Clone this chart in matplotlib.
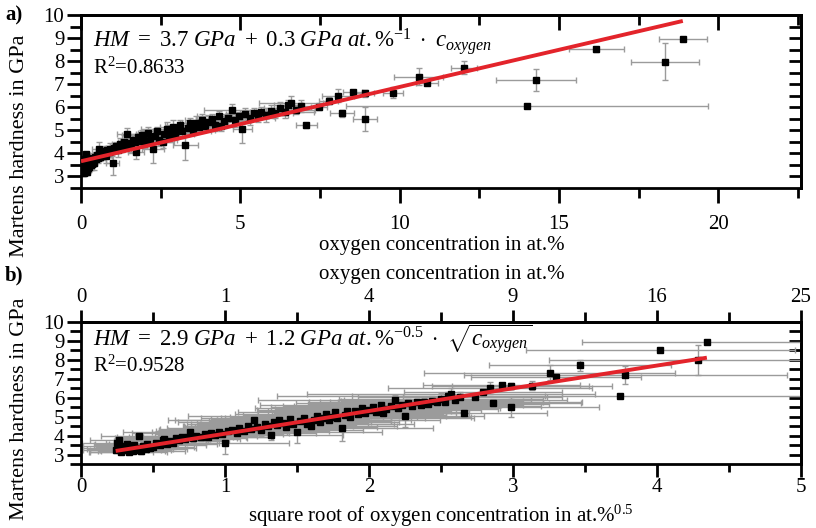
import numpy as np
import matplotlib
matplotlib.use('Agg')
import matplotlib.pyplot as plt
from matplotlib.ticker import MultipleLocator, FixedLocator

plt.rcParams['font.family'] = ['Liberation Serif', 'DejaVu Serif']
plt.rcParams['mathtext.fontset'] = 'custom'
plt.rcParams['mathtext.it'] = 'Liberation Serif:italic'
plt.rcParams['mathtext.rm'] = 'Liberation Serif'
plt.rcParams['mathtext.bf'] = 'Liberation Serif:bold'

# oxygen concentration (at.%), Martens hardness (GPa) and their uncertainties
conc = [0.058, 0.063, 0.068, 0.073, 0.078, 0.090, 0.096, 0.102, 0.109, 0.116,
        0.123, 0.130, 0.137, 0.144, 0.160, 0.160, 0.176, 0.185, 0.203, 0.212,
        0.230, 0.250, 0.270, 0.303, 0.325,
        0.336, 0.360, 0.384, 0.410, 0.436, 0.462, 0.490, 0.518, 0.548, 0.578,
        0.608, 0.640, 0.689, 0.740, 0.774, 0.810, 0.865, 0.922, 0.960, 1.000, 1.040,
        1.10, 1.17, 1.21, 1.28, 1.35, 1.39, 1.44, 1.49, 1.56, 1.64,
        1.69, 1.74, 1.80, 1.85, 1.90, 1.96, 2.02, 2.10, 2.16, 2.25,
        2.31, 2.40, 2.46, 2.56, 2.62, 2.69, 2.76, 2.82, 2.89, 2.96,
        3.03, 3.10, 3.17, 3.28, 3.35, 3.42, 3.50, 3.61, 3.69, 3.80, 3.88, 4.00,
        4.12, 4.20, 4.33, 4.41, 4.49, 4.62, 4.75, 4.84, 4.97, 5.06,
        5.15, 5.29, 5.43, 5.57, 5.66, 5.81, 5.95, 6.10, 6.25, 6.40, 6.50, 6.60, 6.76, 6.92,
        7.07, 7.48, 7.78, 8.07, 8.20, 8.53, 8.90, 8.92, 9.80, 10.60,
        10.87, 12.02, 14.00, 14.29, 16.18, 18.34, 18.89]
hard = [3.25, 3.60, 3.75, 3.35, 3.15, 3.45, 3.25, 3.55, 3.15, 3.30,
        3.40, 3.20, 3.50, 3.25, 3.97, 3.35, 3.20, 3.45, 3.30, 3.55,
        3.35, 3.40, 3.60, 3.50, 3.75,
        3.80, 3.55, 3.70, 3.60, 3.85, 3.75, 3.95, 3.80, 3.90, 4.18,
        3.85, 4.00, 3.95, 4.10, 3.90, 4.15, 4.05, 4.20, 4.10, 3.60, 4.25,
        4.30, 4.15, 4.40, 4.25, 4.50, 4.35, 4.85, 4.45, 4.30, 4.60,
        4.50, 4.05, 4.70, 4.55, 4.80, 4.65, 4.45, 4.90, 4.60, 4.20,
        4.75, 4.95, 4.60, 4.50, 4.85, 5.05, 4.70, 4.95, 5.15, 4.85,
        5.00, 5.25, 4.95, 4.38, 5.10, 5.30, 5.00, 5.30, 5.15, 5.45, 5.20, 5.35,
        5.50, 5.25, 5.60, 5.17, 5.40, 5.55, 5.87, 5.45, 5.60, 5.05,
        5.70, 5.55, 5.75, 5.60, 5.80, 5.65, 5.85, 5.75, 5.95, 5.80, 6.10, 6.20, 5.90, 6.05,
        5.21, 6.03, 6.28, 6.51, 5.74, 6.65, 6.61, 5.50, 6.64, 7.33,
        7.07, 7.72, 6.07, 7.19, 8.51, 7.98, 8.96]
conc_err = [0.05, 0.06, 0.04, 0.07, 0.05, 0.08, 0.06, 0.05, 0.07, 0.09,
            0.06, 0.05, 0.08, 0.06, 0.07, 0.05, 0.09, 0.06, 0.08, 0.07,
            0.10, 0.08, 0.12, 0.10, 0.09,
            0.10, 0.12, 0.15, 0.10, 0.18, 0.12, 0.20, 0.15, 0.10, 0.22,
            0.14, 0.18, 0.25, 0.12, 0.20, 0.30, 0.15, 0.22, 0.18, 0.20, 0.25,
            0.20, 0.30, 0.25, 0.35, 0.20, 0.40, 0.30, 0.25, 0.50, 0.30,
            0.35, 0.25, 0.45, 0.30, 0.60, 0.35, 0.40, 0.30, 0.50, 0.35,
            0.40, 0.30, 0.55, 0.35, 0.45, 0.80, 0.30, 0.50, 0.40, 0.60,
            0.35, 0.45, 0.90, 0.40, 0.50, 0.30, 0.70, 0.45, 0.35, 0.55, 0.40, 0.60,
            0.50, 0.40, 0.70, 0.35, 0.60, 0.45, 0.90, 0.50, 0.40, 0.30,
            0.60, 0.80, 0.45, 0.50, 0.35, 0.70, 0.40, 0.55, 0.50, 0.90, 0.45, 1.00, 0.60, 0.50,
            0.33, 0.25, 0.30, 0.50, 0.37, 0.30, 0.30, 0.37, 0.31, 0.76,
            0.35, 0.40, 5.67, 1.26, 0.87, 1.07, 0.75]
hard_err = [0.15, 0.20, 0.15, 0.25, 0.10, 0.20, 0.15, 0.20, 0.10, 0.15,
            0.25, 0.10, 0.20, 0.15, 0.10, 0.20, 0.15, 0.20, 0.10, 0.25,
            0.15, 0.20, 0.15, 0.20, 0.15,
            0.20, 0.25, 0.15, 0.30, 0.20, 0.15, 0.25, 0.20, 0.15, 0.30,
            0.20, 0.15, 0.25, 0.20, 0.30, 0.15, 0.20, 0.25, 0.20, 0.55, 0.20,
            0.20, 0.30, 0.25, 0.20, 0.30, 0.20, 0.25, 0.20, 0.30, 0.25,
            0.20, 0.30, 0.20, 0.25, 0.20, 0.30, 0.20, 0.25, 0.20, 0.60,
            0.25, 0.20, 0.30, 0.25, 0.20, 0.30, 0.20, 0.25, 0.30, 0.20,
            0.25, 0.20, 0.30, 0.65, 0.20, 0.25, 0.20, 0.30, 0.20, 0.25, 0.20, 0.30,
            0.20, 0.30, 0.25, 0.20, 0.30, 0.20, 0.25, 0.30, 0.20, 0.60,
            0.25, 0.30, 0.20, 0.25, 0.20, 0.30, 0.25, 0.20, 0.30, 0.25, 0.20, 0.30, 0.20, 0.25,
            0.10, 0.15, 0.15, 0.30, 0.15, 0.12, 0.15, 0.52, 0.25, 0.38,
            0.12, 0.29, 0.03, 0.47, 0.10, 0.79, 0.05]

# fit coefficients: intercept (GPa), slope
fit_lin = [3.66, 0.322]
fit_sqrt = [2.9, 1.2]

eq_lin = r'$HM\ =\ 3.7\ GPa\ +\ 0.3\ GPa\ at.\%^{-1}\ \cdot\ c_{oxygen}$'
eq_sqrt = r'$HM\ =\ 2.9\ GPa\ +\ 1.2\ GPa\ at.\%^{-0.5}\ \cdot\ \sqrt{c_{oxygen}}$'
r2_lin = 'R$^2$=0.8633'
r2_sqrt = 'R$^2$=0.9528'
sqrt_top_labels = ['0', '1', '4', '9', '16', '25']

RED = '#e3242b'
GREY = '#9b9b9b'
W, H = 816, 528

conc = np.array(conc)
hard = np.array(hard)
conc_err = np.array(conc_err)
hard_err = np.array(hard_err)
root = np.sqrt(conc)
root_err = np.sqrt(conc_err)

fig = plt.figure(figsize=(W / 100, H / 100), dpi=100)
ax_a = fig.add_axes([81 / W, 1 - 188 / H, 720 / W, 173 / H])
ax_b = fig.add_axes([81 / W, 1 - 464 / H, 720 / W, 142 / H])


def base_style(ax, xlen, xpad):
    for sp in ax.spines.values():
        sp.set_linewidth(2)
    ax.set_ylim(2.5, 10)
    ax.yaxis.set_major_locator(FixedLocator(range(3, 11)))
    ax.yaxis.set_minor_locator(MultipleLocator(0.5))
    ax.tick_params(axis='y', which='major', direction='out', length=10, width=2,
                   labelsize=15, pad=2)
    ax.tick_params(axis='y', which='minor', direction='out', length=8, width=2)
    ax.tick_params(axis='x', which='major', direction='out', length=xlen, width=2,
                   labelsize=15, pad=xpad)
    ax.tick_params(axis='x', which='minor', direction='out', length=xlen * 0.65, width=2)
    right = ax.secondary_yaxis('right')
    right.spines['right'].set_linewidth(2)
    right.yaxis.set_major_locator(FixedLocator(np.arange(3, 10, 0.5)))
    right.tick_params(direction='in', length=9, width=2, labelright=False)


def draw_points(ax, x, y, xe, ye):
    ax.errorbar(x, y, xerr=xe, yerr=ye, fmt='none', ecolor=GREY, elinewidth=1,
                capsize=2.5, capthick=1, zorder=2)
    ax.plot(x, y, 's', color='black', markersize=4.2, zorder=3)


# panel a: hardness vs. oxygen concentration
base_style(ax_a, 11, 8.5)
ax_a.set_xlim(0, 22.6)
ax_a.xaxis.set_major_locator(MultipleLocator(5))
ax_a.xaxis.set_minor_locator(MultipleLocator(2.5))
top_a = ax_a.secondary_xaxis('top')
top_a.spines['top'].set_linewidth(2)
top_a.xaxis.set_major_locator(MultipleLocator(5))
top_a.xaxis.set_minor_locator(MultipleLocator(2.5))
top_a.tick_params(which='major', direction='in', length=11, width=2, labeltop=False)
top_a.tick_params(which='minor', direction='in', length=7, width=2)

draw_points(ax_a, conc, hard, conc_err, hard_err)
xl = np.array([0, conc.max()])
ax_a.plot(xl, fit_lin[0] + fit_lin[1] * xl, color=RED, lw=2.8, zorder=4,
          solid_capstyle='butt')
ax_a.text(0.017, 0.845, eq_lin, transform=ax_a.transAxes, fontsize=16.5, va='center')
ax_a.text(0.017, 0.69, r2_lin, transform=ax_a.transAxes, fontsize=15, va='center')

# panel b: hardness vs. square root of oxygen concentration
base_style(ax_b, 9, 1)
ax_b.set_xlim(0, 5)
ax_b.xaxis.set_major_locator(MultipleLocator(1))
ax_b.xaxis.set_minor_locator(MultipleLocator(0.5))
top_b = ax_b.secondary_xaxis('top')
top_b.spines['top'].set_linewidth(2)
top_b.xaxis.set_major_locator(FixedLocator(range(6)))
top_b.xaxis.set_minor_locator(MultipleLocator(0.5))
top_b.set_xticklabels(sqrt_top_labels)
top_b.tick_params(which='major', direction='out', length=9, width=2, labelsize=15, pad=2)
top_b.tick_params(which='minor', direction='out', length=7, width=2)

draw_points(ax_b, root, hard, root_err, hard_err)
sl = np.array([root.min(), root.max()])
ax_b.plot(sl, fit_sqrt[0] + fit_sqrt[1] * sl, color=RED, lw=2.8, zorder=4,
          solid_capstyle='butt')
ax_b.text(0.017, 0.88, eq_sqrt, transform=ax_b.transAxes, fontsize=16.5, va='center')
ax_b.text(0.017, 0.69, r2_sqrt, transform=ax_b.transAxes, fontsize=15, va='center')

# labels
fig.text(20 / W, 1 - 146 / H, 'Martens hardness in GPa', rotation=90,
         ha='center', va='center', fontsize=16)
fig.text(20 / W, 1 - 409 / H, 'Martens hardness in GPa', rotation=90,
         ha='center', va='center', fontsize=16)
fig.text(442 / W, 1 - 246 / H, 'oxygen concentration in at.%',
         ha='center', va='center', fontsize=15)
fig.text(442 / W, 1 - 275 / H, 'oxygen concentration in at.%',
         ha='center', va='center', fontsize=15)
fig.text(441 / W, 1 - 516 / H, 'square root of oxygen concentration in at.%$^{0.5}$',
         ha='center', va='center', fontsize=15)
fig.text(5 / W, 1 - 15 / H, 'a)', fontweight='bold', ha='left', va='center', fontsize=15)
fig.text(5 / W, 1 - 275 / H, 'b)', fontweight='bold', ha='left', va='center', fontsize=15)

fig.savefig('out.png', dpi=100, facecolor='white')
